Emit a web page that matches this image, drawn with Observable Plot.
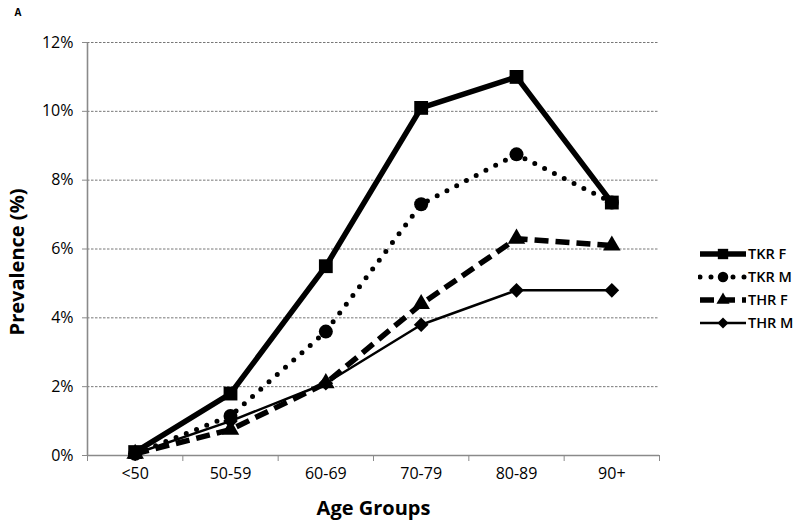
<!DOCTYPE html>
<html>
<head>
<meta charset="utf-8">
<script src="https://cdn.jsdelivr.net/npm/d3@7"></script>
<script src="https://cdn.jsdelivr.net/npm/@observablehq/plot@0.6"></script>
<style>
  html, body { margin: 0; padding: 0; background: #fff; }
  #wrap { position: relative; width: 795px; height: 522px; font-family: "Open Sans", sans-serif; }
  #legend { position: absolute; left: 698px; top: 242px; width: 97px; }
  .item { display: flex; align-items: center; height: 23px; font-size: 14.5px; font-weight: 600; color: #000; white-space: nowrap; }
  .item svg { display: block; flex: none; }
</style>
</head>
<body>
<div id="wrap"><div id="legend"></div></div>
<script>
// ---- data ----
const categories = ["<50", "50-59", "60-69", "70-79", "80-89", "90+"];
const seriesNames = ["TKR F", "TKR M", "THR F", "THR M"];
const tkrF = [0.1, 1.8, 5.5, 10.1, 11.0, 7.35];
const tkrM = [0.05, 1.15, 3.6, 7.3, 8.75, 7.35];
const thrF = [0.05, 0.75, 2.1, 4.4, 6.3, 6.1];
const thrM = [0.05, 1.0, 2.1, 3.8, 4.8, 4.8];
const yTicks = [0, 2, 4, 6, 8, 10, 12];
const xTitle = "Age Groups";
const yTitle = "Prevalence (%)";
const panelLabel = "A";

// ---- styles ----
const styles = {
  "TKR F": {values: tkrF, strokeWidth: 5.5, dash: null, cap: "butt", symbol: "square", r: 7.8},
  "TKR M": {values: tkrM, strokeWidth: 5, dash: "0,11", cap: "round", symbol: "circle", r: 7},
  "THR F": {values: thrF, strokeWidth: 5.5, dash: "14,7", cap: "butt", symbol: "triangle", r: 6.5},
  "THR M": {values: thrM, strokeWidth: 2.5, dash: null, cap: "butt", symbol: "diamond2", r: 6.6}
};
const drawOrder = ["THR M", "THR F", "TKR M", "TKR F"];

const rows = name => styles[name].values.map((v, i) => ({i, v, s: name}));
const boundaries = d3.range(categories.length + 1).map(i => i - 0.5);

const marks = [
  Plot.gridY(yTicks.slice(1), {stroke: "#777", strokeOpacity: 1, strokeWidth: 1, strokeDasharray: "2.5,1.5"}),
  Plot.ruleX([boundaries[0]], {stroke: "#8a8a8a", strokeWidth: 1.6}),
  Plot.ruleY([0], {stroke: "#8a8a8a", strokeWidth: 1.6}),
  Plot.axisY({ticks: yTicks, tickFormat: d => d + "%", tickSize: 5, tickPadding: 9, stroke: "#8a8a8a",
              fontSize: 16, label: null}),
  Plot.axisX({ticks: boundaries, tickFormat: () => "", tickSize: 6, stroke: "#8a8a8a", label: null}),
  Plot.axisX({ticks: d3.range(categories.length), tickFormat: i => categories[i], tickSize: 0, tickPadding: 12,
              fontSize: 16, label: null}),
];
for (const name of drawOrder) {
  const st = styles[name];
  marks.push(Plot.line(rows(name), {x: "i", y: "v", stroke: "#000", strokeWidth: st.strokeWidth,
    strokeDasharray: st.dash, strokeLinecap: st.cap, strokeLinejoin: "miter"}));
}
for (const name of drawOrder) {
  const st = styles[name];
  marks.push(Plot.dot(rows(name), {x: "i", y: "v", symbol: st.symbol, r: st.r, fill: "#000", stroke: "none"}));
}
marks.push(
  Plot.text([yTitle], {frameAnchor: "left", textAnchor: "middle", rotate: -90, dx: -70, dy: 13, fontSize: 20, fontWeight: "bold"}),
  Plot.text([xTitle], {frameAnchor: "bottom", dy: 59, fontSize: 20, fontWeight: "bold"}),
  Plot.text([panelLabel], {frameAnchor: "top-left", dx: -73, dy: -34, fontSize: 10, fontWeight: "bold"})
);

const chart = Plot.plot({
  width: 795,
  height: 522,
  marginLeft: 87,
  marginRight: 136,
  marginTop: 42,
  marginBottom: 67,
  style: {fontFamily: "'Open Sans', sans-serif", fontSize: "15px", color: "#000", background: "#fff"},
  x: {type: "linear", domain: [boundaries[0], boundaries[boundaries.length - 1]], axis: null},
  y: {domain: [yTicks[0], yTicks[yTicks.length - 1]], axis: null},
  marks
});
document.getElementById("wrap").prepend(chart);

// ---- legend ----
const legend = d3.select("#legend");
for (const name of seriesNames) {
  const st = styles[name];
  const item = legend.append("div").attr("class", "item");
  const svg = item.append("svg").attr("width", 50).attr("height", 20);
  svg.append("line").attr("x1", 2).attr("x2", 48).attr("y1", 10).attr("y2", 10)
    .attr("stroke", "#000").attr("stroke-width", st.strokeWidth)
    .attr("stroke-dasharray", st.dash).attr("stroke-linecap", st.cap);
  const symType = {square: d3.symbolSquare, circle: d3.symbolCircle, triangle: d3.symbolTriangle, diamond2: d3.symbolDiamond2}[st.symbol];
  const lr = st.r * 0.75;
  svg.append("path").attr("transform", "translate(25,10)")
    .attr("d", d3.symbol(symType, lr * lr * Math.PI)()).attr("fill", "#000");
  item.append("span").text(name);
}
</script>
</body>
</html>
